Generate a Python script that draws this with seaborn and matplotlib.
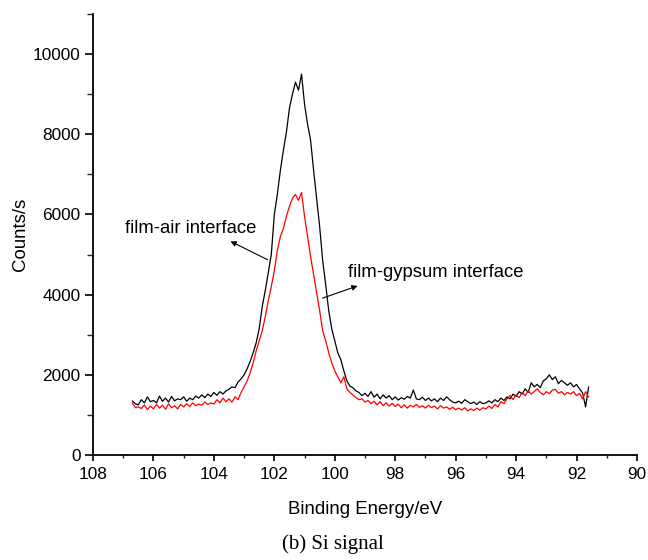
import numpy as np
import pandas as pd
import matplotlib
matplotlib.use("Agg")
import matplotlib.pyplot as plt
from matplotlib.ticker import MultipleLocator
import seaborn as sns

# Si 2p spectra, 0.1 eV steps from 106.7 eV down to 91.6 eV
start_ev = 106.7
step_ev = 0.1

film_air = [
    1350, 1280, 1250, 1380, 1300, 1450, 1330, 1360, 1300, 1470,
    1340, 1420, 1320, 1460, 1350, 1400, 1380, 1450, 1340, 1420,
    1380, 1470, 1420, 1500, 1430, 1520, 1460, 1560, 1490, 1580,
    1520, 1600, 1640, 1700, 1680, 1820, 1900, 2000, 2150, 2330,
    2550, 2800, 3150, 3700, 4100, 4550, 5000, 6000, 6500, 7100,
    7600, 8050, 8650, 9000, 9300, 9100, 9500, 8750, 8250, 7850,
    7100, 6400, 5700, 4850, 4250, 3600, 3150, 2850, 2550, 2380,
    2100, 1850, 1720, 1680, 1600, 1560, 1480, 1540, 1460, 1580,
    1440, 1520, 1400, 1500, 1420, 1480, 1380, 1450, 1370, 1430,
    1390, 1460, 1420, 1620, 1400, 1380, 1440, 1360, 1420, 1350,
    1400, 1330, 1420, 1360, 1450, 1380, 1320, 1300, 1340, 1290,
    1380, 1330, 1280, 1320, 1260, 1330, 1280, 1300, 1350, 1300,
    1380, 1330, 1420, 1360, 1450, 1400, 1520, 1460, 1580, 1520,
    1650, 1560, 1800, 1700, 1760, 1680, 1850, 1900, 2000, 1880,
    1950, 1780, 1860, 1800, 1740, 1800, 1700, 1760, 1650, 1550,
    1200, 1700,
]

film_gypsum = [
    1300, 1180, 1200, 1160, 1250, 1130, 1220, 1150, 1260, 1170,
    1240, 1140, 1280, 1180, 1230, 1150, 1260, 1200, 1280, 1210,
    1300, 1230, 1270, 1240, 1320, 1260, 1300, 1270, 1380, 1300,
    1420, 1330, 1400, 1320, 1450, 1380, 1560, 1700, 1850, 2050,
    2300, 2600, 2850, 3100, 3450, 3850, 4200, 4600, 5100, 5450,
    5650, 5950, 6200, 6400, 6500, 6350, 6550, 5950, 5450, 4950,
    4500, 4050, 3600, 3100, 2850, 2550, 2300, 2100, 1950, 1800,
    1950, 1650, 1560, 1500, 1430, 1380, 1400, 1320, 1360, 1280,
    1340, 1250, 1330, 1230, 1300, 1220, 1290, 1210, 1270, 1180,
    1250, 1170, 1240, 1200, 1260, 1190, 1230, 1170, 1240, 1180,
    1220, 1150, 1230, 1170, 1200, 1140, 1190, 1130, 1170, 1120,
    1180, 1100, 1150, 1110, 1170, 1120, 1180, 1150, 1220, 1160,
    1260, 1200, 1330, 1280, 1400, 1480, 1380, 1500, 1430, 1560,
    1480, 1600, 1520, 1580, 1650, 1560, 1500, 1580, 1530, 1620,
    1640, 1540, 1580, 1500, 1560, 1520, 1580, 1480, 1540, 1400,
    1580, 1450,
]

energy = np.round(start_ev - step_ev * np.arange(len(film_air)), 1)

df = pd.DataFrame({"energy": energy, "air": film_air, "gypsum": film_gypsum})

sns.set_style("ticks")
plt.rcParams["font.family"] = ["Liberation Sans", "DejaVu Sans"]
plt.rcParams["text.color"] = "black"
plt.rcParams["axes.labelcolor"] = "black"

fig = plt.figure(figsize=(6.48, 5.6), dpi=100)
ax = fig.add_axes([0.1435, 0.1875, 0.8395, 0.7875])

sns.lineplot(data=df, x="energy", y="air", ax=ax, color="black", linewidth=0.9, sort=False)
sns.lineplot(data=df, x="energy", y="gypsum", ax=ax, color="red", linewidth=0.9, sort=False)

ax.set_xlim(108, 90)
ax.set_ylim(0, 11000)
ax.xaxis.set_major_locator(MultipleLocator(2))
ax.xaxis.set_minor_locator(MultipleLocator(1))
ax.yaxis.set_major_locator(MultipleLocator(2000))
ax.yaxis.set_minor_locator(MultipleLocator(1000))

for side in ["top", "right"]:
    ax.spines[side].set_visible(False)
for side in ["left", "bottom"]:
    ax.spines[side].set_linewidth(1.3)
    ax.spines[side].set_color("black")

ax.tick_params(axis="both", which="major", direction="out", width=1.2, color="black",
               labelsize=12.4, labelcolor="black")
ax.tick_params(axis="x", which="major", length=4.5, pad=4)
ax.tick_params(axis="x", which="minor", length=2.5, width=1.0)
ax.tick_params(axis="y", which="major", length=6, pad=3)
ax.tick_params(axis="y", which="minor", length=4, width=1.0)

ax.set_xlabel("Binding Energy/eV", fontsize=13.4, labelpad=14)
ax.set_ylabel("Counts/s", fontsize=13.4, labelpad=3)

# labels with arrows pointing at each curve
ax.annotate("", xy=(103.53, 5360), xytext=(102.14, 4840),
            arrowprops=dict(arrowstyle="-|>", color="black", lw=0.8, mutation_scale=8))
ax.text(106.94, 5640, "film-air interface", fontsize=13.3, ha="left", va="center")

ax.annotate("", xy=(99.16, 4240), xytext=(100.49, 3890),
            arrowprops=dict(arrowstyle="-|>", color="black", lw=0.8, mutation_scale=8))
ax.text(99.56, 4560, "film-gypsum interface", fontsize=13.3, ha="left", va="center")

fig.text(0.514, 0.028, "(b) Si signal", fontsize=15, ha="center", va="center",
         family=["Liberation Serif", "DejaVu Serif"])

fig.savefig("out.png", dpi=100)
